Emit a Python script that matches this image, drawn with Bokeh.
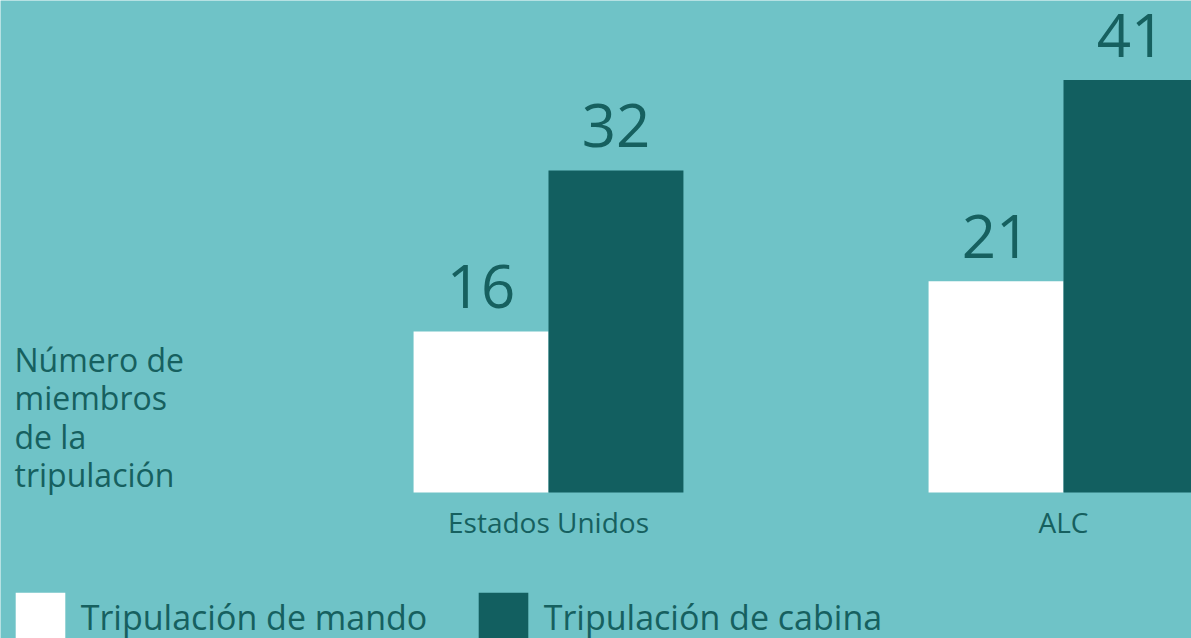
import numpy as np
from bokeh.plotting import figure
from bokeh.models import Range1d, Label, Legend, LegendItem, ColumnDataSource
from bokeh.core.properties import value
from bokeh.embed import file_html
from bokeh.resources import INLINE

# ---- data ----
categories = ["Estados Unidos", "ALC"]
series_names = ["Tripulación de mando", "Tripulación de cabina"]
mando = [16, 21]
cabina = [32, 41]
y_title_lines = ["Número de", "miembros", "de la", "tripulación"]

# ---- style ----
BG = "#6fc3c7"
DARK = "#125f60"
TXT = "#16605f"
FONT = "Open Sans"

W, H = 1191, 638
p = figure(width=W, height=H, output_backend="svg", toolbar_location=None,
           x_range=Range1d(-1.06408, 1.24854), y_range=Range1d(-14.513, 48.907),
           min_border=0, outline_line_color=None,
           background_fill_color=BG, border_fill_color=BG)
p.axis.visible = False
p.grid.visible = False

x = np.arange(len(categories))
bw = 0.262
src = ColumnDataSource(dict(
    x_m=x - bw / 2, x_c=x + bw / 2, x=x,
    mando=mando, cabina=cabina,
    mando_lbl=[str(v) for v in mando], cabina_lbl=[str(v) for v in cabina],
    cat=categories,
    zero=[0] * len(categories),
))

r1 = p.vbar(x="x_m", top="mando", width=bw, source=src, fill_color="white", line_color=None)
r2 = p.vbar(x="x_c", top="cabina", width=bw, source=src, fill_color=DARK, line_color=None)

for xc, yc, lbl in (("x_m", "mando", "mando_lbl"), ("x_c", "cabina", "cabina_lbl")):
    p.text(x=xc, y=yc, text=lbl, source=src, text_align="center",
           text_baseline="alphabetic", y_offset=-45, text_color=TXT,
           text_font=value(FONT), text_font_size="60px")

p.text(x="x", y="zero", text="cat", source=src, text_align="center",
       text_baseline="alphabetic", y_offset=29, text_color=TXT,
       text_font=value(FONT), text_font_size="28px")

for i, line in enumerate(y_title_lines):
    p.add_layout(Label(x=14, y=H - 359 - 38.3 * i, x_units="screen", y_units="screen",
                       text=line, text_baseline="alphabetic", text_align="left",
                       text_color=TXT, text_font=FONT, text_font_size="32px"))

legend = Legend(items=[LegendItem(label=series_names[0], renderers=[r1]),
                       LegendItem(label=series_names[1], renderers=[r2])],
                orientation="horizontal", location=(8.75, -10.25),
                glyph_width=62, glyph_height=62, label_standoff=10,
                label_width=391, spacing=0, padding=0, margin=0,
                background_fill_alpha=0, border_line_color=None,
                label_text_font=FONT, label_text_font_size="34px",
                label_text_baseline="alphabetic",
                label_text_color=TXT)
p.add_layout(legend)

open("out.html", "w").write(file_html(p, INLINE))
